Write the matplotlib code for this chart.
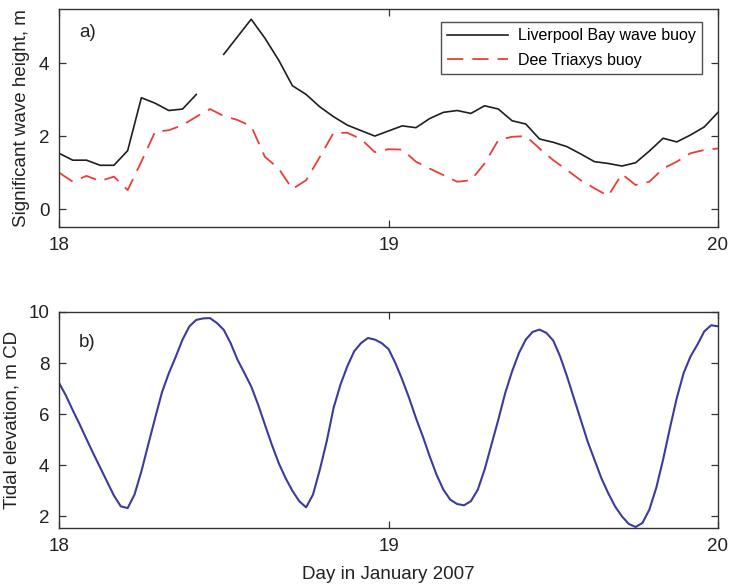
import numpy as np
import matplotlib
matplotlib.use("Agg")
import matplotlib.pyplot as plt

plt.rcParams['font.family'] = ['Liberation Sans', 'DejaVu Sans']

# ---- data ----
hours = list(range(49))  # hourly, from 18 Jan 00:00 to 20 Jan 00:00
liverpool_hs = [1.53, 1.34, 1.34, 1.20, 1.20, 1.60, 3.05, 2.90, 2.70, 2.74,
                3.14, np.nan, 4.24, 4.72, 5.20, 4.68, 4.08, 3.38, 3.14, 2.80,
                2.53, 2.30, 2.15, 2.00, 2.14, 2.28, 2.23, 2.48, 2.65, 2.70,
                2.62, 2.83, 2.74, 2.42, 2.33, 1.92, 1.83, 1.71, 1.51, 1.30,
                1.25, 1.18, 1.27, 1.59, 1.94, 1.84, 2.03, 2.25, 2.65]
dee_hs = [1.00, 0.75, 0.91, 0.77, 0.89, 0.52, 1.30, 2.12, 2.16, 2.30,
          2.53, 2.74, 2.55, 2.44, 2.27, 1.43, 1.11, 0.55, 0.79, 1.43,
          2.09, 2.09, 1.92, 1.56, 1.64, 1.63, 1.30, 1.11, 0.93, 0.75,
          0.79, 1.25, 1.89, 1.98, 2.00, 1.66, 1.34, 1.07, 0.79, 0.57,
          0.36, 0.96, 0.66, 0.75, 1.11, 1.30, 1.53, 1.62, 1.66]

# half-hourly tidal elevation readings (hours from 18 Jan 00:00)
tide_hours = [h / 2 for h in range(97)]
tide_m = [7.22, 6.73, 6.15, 5.60, 5.02, 4.45, 3.90, 3.35, 2.80, 2.38,
          2.31, 2.84, 3.75, 4.80, 5.84, 6.85, 7.60, 8.24, 8.92, 9.44,
          9.69, 9.75, 9.76, 9.57, 9.30, 8.78, 8.13, 7.61, 7.08, 6.37,
          5.58, 4.80, 4.08, 3.49, 2.99, 2.58, 2.34, 2.84, 3.82, 4.93,
          6.24, 7.15, 7.87, 8.46, 8.78, 8.98, 8.92, 8.78, 8.55, 8.00,
          7.35, 6.63, 5.84, 5.12, 4.34, 3.62, 3.03, 2.64, 2.47, 2.42,
          2.58, 3.03, 3.82, 4.80, 5.78, 6.82, 7.67, 8.39, 8.92, 9.22,
          9.31, 9.18, 8.88, 8.26, 7.48, 6.63, 5.78, 4.93, 4.21, 3.49,
          2.90, 2.38, 1.99, 1.69, 1.57, 1.73, 2.25, 3.10, 4.21, 5.45,
          6.63, 7.61, 8.26, 8.72, 9.24, 9.48, 9.44]

start_day = 18
day_ticks = [18, 19, 20]
legend_labels = ['Liverpool Bay wave buoy', 'Dee Triaxys buoy']

days = start_day + np.array(hours) / 24.0
tide_days = start_day + np.array(tide_hours) / 24.0

# ---- figure ----
W, H = 730, 588
fig = plt.figure(figsize=(W / 100, H / 100), dpi=100)

def px_axes(l, t, r, b):
    return fig.add_axes([l / W, 1 - b / H, (r - l) / W, (b - t) / H])

ax1 = px_axes(59, 9, 718, 227)
ax2 = px_axes(59, 312, 718, 528)

spine_c = '#333333'
fs = 13.5

for ax in (ax1, ax2):
    for s in ax.spines.values():
        s.set_color(spine_c)
        s.set_linewidth(1.0)
    ax.tick_params(direction='in', top=True, right=True, length=5,
                   width=0.9, color=spine_c, labelsize=fs, pad=7,
                   labelcolor='#222222')
    ax.set_xlim(18, 20)
    ax.set_xticks(day_ticks)
    ax.set_xticklabels([str(d) for d in day_ticks])

ax1.plot(days, liverpool_hs, color='#1e1e1e', lw=1.2,
         label=legend_labels[0])
ax1.plot(days, dee_hs, color='#ec3d3a', lw=1.3, dashes=(9, 5),
         label=legend_labels[1])
ax1.set_ylim(-0.49, 5.48)
ax1.set_yticks([0, 2, 4])
ax1.set_ylabel('Significant wave height, m', fontsize=fs, color='#222222',
               labelpad=6)
ax1.text(0.03, 0.89, 'a)', transform=ax1.transAxes, fontsize=fs,
         va='center', ha='left', color='#222222')
leg = ax1.legend(loc='upper right', bbox_to_anchor=(0.9757, 0.94),
                 fontsize=11.5, handlelength=3.8, frameon=True, fancybox=False,
                 borderpad=0.4, labelspacing=0.6, handletextpad=0.6,
                 borderaxespad=0.0)
leg.get_frame().set_edgecolor('#222222')
leg.get_frame().set_linewidth(1.0)

ax2.plot(tide_days, tide_m, color='#3b3b9e', lw=1.5)
ax2.set_ylim(1.53, 10.0)
ax2.set_yticks([2, 4, 6, 8, 10])
ax2.set_ylabel('Tidal elevation, m CD', fontsize=fs, color='#222222',
               labelpad=6)
ax2.set_xlabel('Day in January 2007', fontsize=fs, color='#222222',
               labelpad=8)
ax2.text(0.03, 0.86, 'b)', transform=ax2.transAxes, fontsize=fs,
         va='center', ha='left', color='#222222')

fig.savefig('out.png', dpi=100)
